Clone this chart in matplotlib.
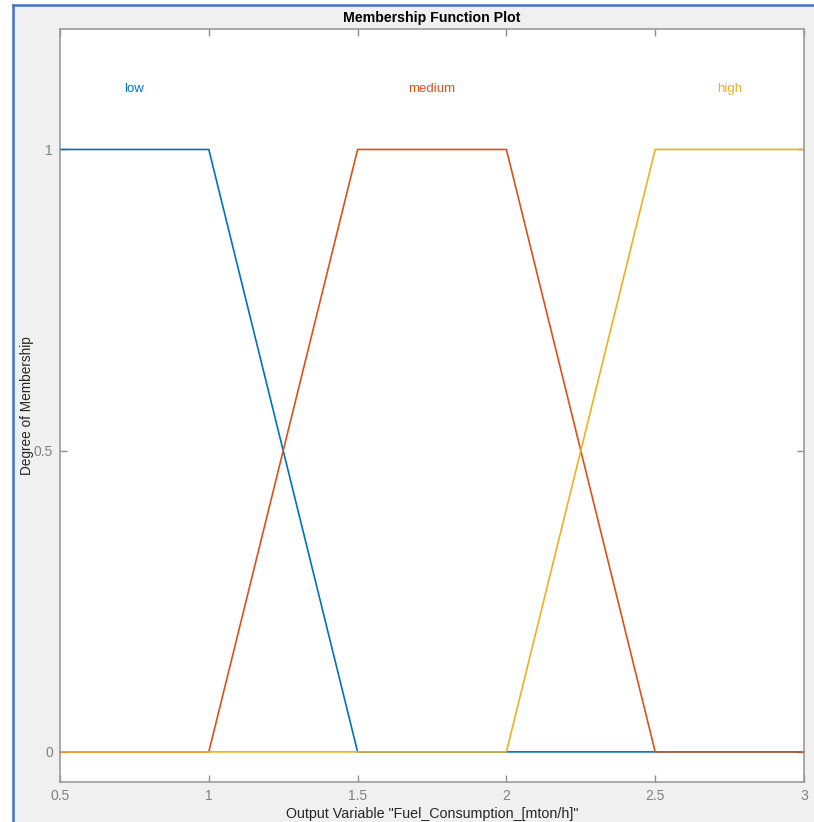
import matplotlib.pyplot as plt
from matplotlib.patches import Rectangle

# membership functions for the output variable (breakpoints, values)
x_low = [0.5, 1.0, 1.5, 3.0]
y_low = [1.0, 1.0, 0.0, 0.0]
x_medium = [0.5, 1.0, 1.5, 2.0, 2.5, 3.0]
y_medium = [0.0, 0.0, 1.0, 1.0, 0.0, 0.0]
x_high = [0.5, 2.0, 2.5, 3.0]
y_high = [0.0, 0.0, 1.0, 1.0]

mf_names = ["low", "medium", "high"]
label_x = [0.75, 1.75, 2.75]
label_y = 1.1

x_ticks = [0.5, 1, 1.5, 2, 2.5, 3]
x_tick_labels = ["0.5", "1", "1.5", "2", "2.5", "3"]
y_ticks = [0, 0.5, 1]
y_tick_labels = ["0", "0.5", "1"]

colors = ["#0072BD", "#D95319", "#EDB120"]

plt.rcParams["font.family"] = ["Liberation Sans", "DejaVu Sans"]

fig = plt.figure(figsize=(8.14, 8.22), dpi=100, facecolor="white")
W, H = 814, 822

# window panel with blue frame on the left and top
panel = Rectangle((13 / W, 0), 1 - 13 / W, (H - 5) / H, transform=fig.transFigure,
                  facecolor="#f0f0f0", edgecolor="none", zorder=-2)
fig.patches.append(panel)
fig.add_artist(plt.Line2D([13 / W, 13 / W], [0, (H - 5) / H], transform=fig.transFigure,
                          color="#4472c4", lw=1.8, zorder=-1))
fig.add_artist(plt.Line2D([13 / W, 1], [(H - 5) / H, (H - 5) / H], transform=fig.transFigure,
                          color="#4472c4", lw=1.8, zorder=-1))

ax = fig.add_axes([60 / W, 40 / H, 744 / W, 753 / H])
ax.set_facecolor("white")

for xs, ys, c in zip([x_low, x_medium, x_high], [y_low, y_medium, y_high], colors):
    ax.plot(xs, ys, color=c, lw=1.2, clip_on=False)

for name, lx, c in zip(mf_names, label_x, colors):
    ax.text(lx, label_y, name, color=c, ha="center", va="center", fontsize=9.5)

ax.set_xlim(0.5, 3)
ax.set_ylim(-0.05, 1.2)
ax.set_xticks(x_ticks)
ax.set_xticklabels(x_tick_labels)
ax.set_yticks(y_ticks)
ax.set_yticklabels(y_tick_labels)
ax.tick_params(direction="in", length=5, width=1, color="#8c8c8c", labelcolor="#808080",
               labelsize=10, top=True, right=True, pad=5)
for s in ax.spines.values():
    s.set_color("#9a9a9a")
    s.set_linewidth(1.2)

ax.set_title("Membership Function Plot", fontsize=10.2, fontweight="bold", pad=5)
ax.set_xlabel('Output Variable "Fuel_Consumption_[mton/h]"', fontsize=10.3,
              color="#262626", labelpad=3)
ax.set_ylabel("Degree of Membership", fontsize=9.8, color="#262626", labelpad=0)

fig.savefig("out.png", dpi=100, facecolor=fig.get_facecolor())
